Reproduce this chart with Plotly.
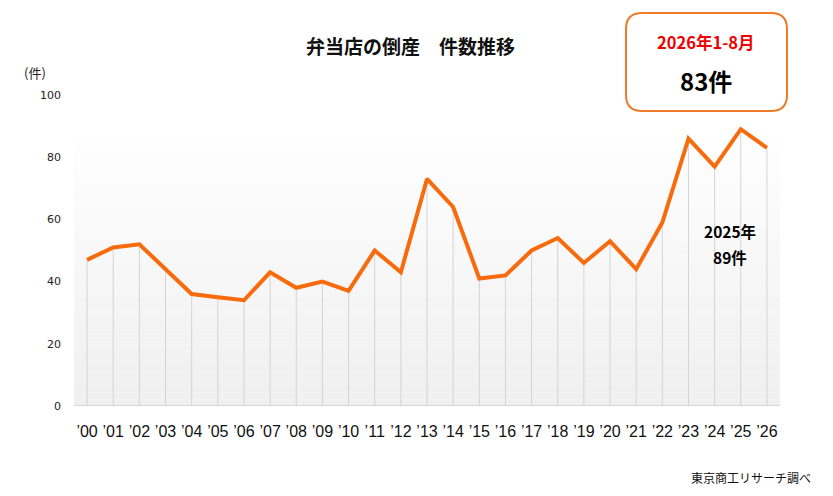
import plotly.graph_objects as go

years = ["’00", "’01", "’02", "’03", "’04", "’05", "’06", "’07", "’08", "’09",
         "’10", "’11", "’12", "’13", "’14", "’15", "’16", "’17", "’18", "’19",
         "’20", "’21", "’22", "’23", "’24", "’25", "’26"]
counts = [47, 51, 52, 44, 36, 35, 34, 43, 38, 40,
          37, 50, 43, 73, 64, 41, 42, 50, 54, 46,
          53, 44, 59, 86, 77, 89, 83]
y_ticks = [0, 20, 40, 60, 80, 100]

FONT = "Noto Sans CJK JP"
ORANGE = "#f76b0c"

# plot area in page pixels (the page body adds an 8px offset)
PX0, PX1, PY0, PY1 = 74, 780, 95, 406


def px(sx):
    return (sx - PX0) / (PX1 - PX0)


def py(sy):
    return (PY1 - sy) / (PY1 - PY0)


fig = go.Figure()

# drop lines from each point to the baseline
fig.add_trace(go.Scatter(
    x=years, y=counts, mode="markers",
    marker=dict(size=0.1, color="rgba(0,0,0,0)"),
    error_y=dict(type="data", symmetric=False, array=[0] * len(counts),
                 arrayminus=counts, color="#d4d4d4", thickness=1, width=0),
    hoverinfo="skip", showlegend=False,
))

fig.add_trace(go.Scatter(
    x=years, y=counts, mode="lines",
    line=dict(color=ORANGE, width=4),
    showlegend=False,
))

# vertical gradient background of the plot area (white -> light grey)
top_val = 88
n_bands = 40
shapes = []
for i in range(n_bands):
    t = i / (n_bands - 1)
    c = int(240 + (255 - 240) * t)
    shapes.append(dict(type="rect", xref="paper", yref="y", layer="below",
                       x0=0, x1=1, y0=top_val * i / n_bands, y1=top_val * (i + 1) / n_bands,
                       fillcolor=f"rgb({c},{c},{c})", line=dict(width=0)))
# baseline
shapes.append(dict(type="line", xref="paper", yref="y", x0=0, x1=1, y0=0, y1=0,
                   line=dict(color="#d0d0d0", width=1.5)))

# rounded info box
bx0, bx1, by0, by1 = px(626), px(787), py(111), py(13)
rx, ry = 16 / (PX1 - PX0), 16 / (PY1 - PY0)
path = (f"M {bx0 + rx},{by0} L {bx1 - rx},{by0} Q {bx1},{by0} {bx1},{by0 + ry} "
        f"L {bx1},{by1 - ry} Q {bx1},{by1} {bx1 - rx},{by1} "
        f"L {bx0 + rx},{by1} Q {bx0},{by1} {bx0},{by1 - ry} "
        f"L {bx0},{by0 + ry} Q {bx0},{by0} {bx0 + rx},{by0} Z")
shapes.append(dict(type="path", xref="paper", yref="paper", path=path,
                   line=dict(color="#ee7a2a", width=2), fillcolor="white", layer="above"))
fig.update_layout(shapes=shapes)


def note(text, sx, sy, size, color="#000000", anchor="center", bold=True):
    fig.add_annotation(text=f"<b>{text}</b>" if bold else text, xref="paper", yref="paper",
                       x=px(sx), y=py(sy), xanchor=anchor, yanchor="middle",
                       showarrow=False, font=dict(size=size, color=color, family=FONT))


note("弁当店の倒産　件数推移", 410, 45, 19, "#111111")
note("2026年1-8月", 706, 42, 16.5, "#ee0000")
note("83件", 706, 80, 24)
note("2025年", 730, 231, 15.5)
note("89件", 730, 257, 15.5)
note("(件)", 22, 72, 13, "#222222", anchor="left", bold=False)
note("東京商工リサーチ調べ", 813, 478, 12, "#111111", anchor="right", bold=False)

fig.update_layout(
    width=825, height=488,
    margin=dict(l=PX0 - 8, r=833 - PX1, t=PY0 - 8, b=496 - PY1),
    paper_bgcolor="white", plot_bgcolor="white",
    font=dict(family=FONT),
    xaxis=dict(type="category", range=[-0.5, 26.5], showgrid=False, showline=False,
               ticks="", tickfont=dict(size=16, color="#111111", family="Liberation Sans"),
               ticklabelstandoff=14),
    yaxis=dict(range=[0, 100], tickvals=y_ticks, showgrid=False, zeroline=False,
               showline=False, ticks="", tickfont=dict(size=11, color="#222222", family="DejaVu Sans"),
               ticklabelstandoff=12),
)

fig.write_html("out.html")
